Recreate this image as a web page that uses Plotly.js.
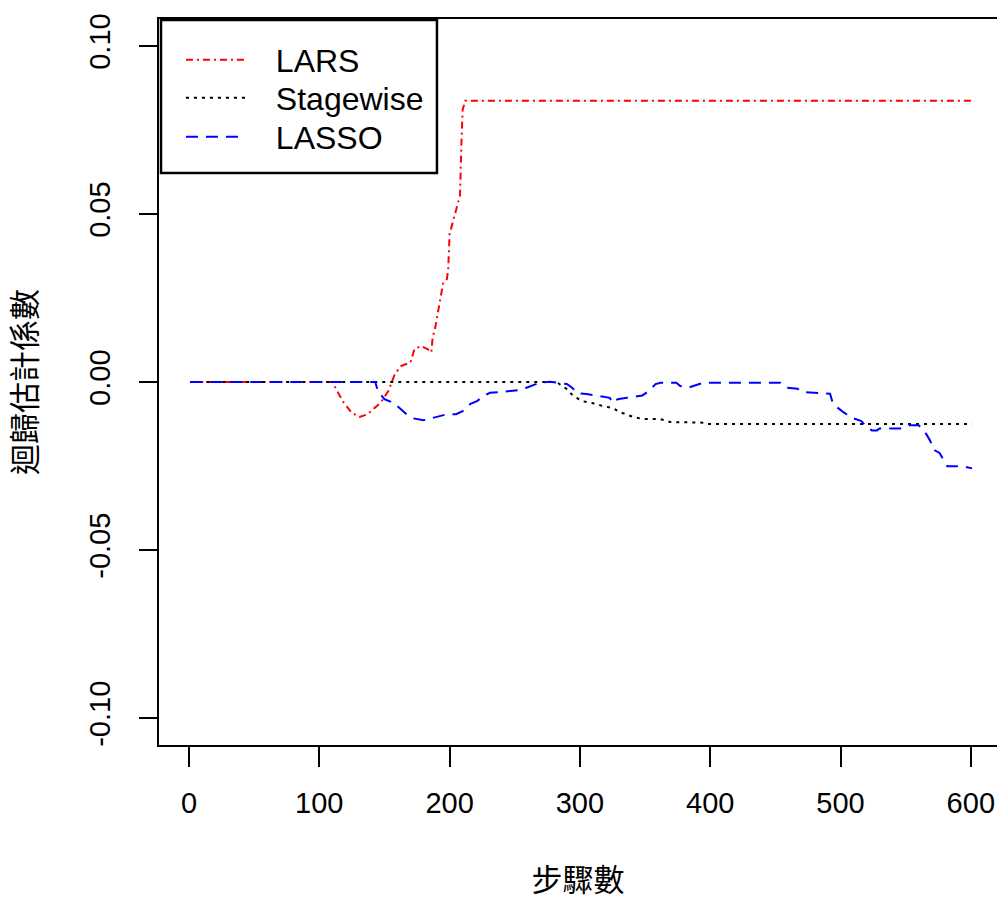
<!DOCTYPE html>
<html>
<head>
<meta charset="utf-8">
<script src="https://cdn.plot.ly/plotly-3.0.1.min.js"></script>
<style>html,body{margin:0;padding:0;background:#fff;}</style>
</head>
<body>
<div id="chart" style="width:997px;height:900px;"></div>
<script>
// LARS path
const larsSteps = [1,110,118,125,131,137,147,153,158,163,170,173,178,183,186,187,189,191,193,194,195,198,199,200,202,204,206,208,209,210,212,601];
const larsCoef  = [0,0,-0.0057,-0.0092,-0.0104,-0.0096,-0.0062,-0.0027,0.0024,0.0048,0.0058,0.0098,0.0107,0.0098,0.0088,0.0132,0.0162,0.0203,0.0242,0.0272,0.0293,0.0307,0.0341,0.0440,0.0471,0.0500,0.0531,0.0555,0.0700,0.0809,0.0837,0.0837];
// Stagewise path
const stageSteps = [1,282,290,295,302,310,318,325,331,341,348,361,367,369,395,397,601];
const stageCoef  = [0,0,-0.0021,-0.0042,-0.0057,-0.0063,-0.0072,-0.0077,-0.0090,-0.0104,-0.0110,-0.0110,-0.0116,-0.0119,-0.0121,-0.0125,-0.0125];
// LASSO path
const lassoSteps = [1,143,145,150,157,162,167,172,180,184,190,198,205,210,216,221,226,231,239,246,254,259,264,269,277,285,290,294,298,305,315,323,325,329,336,348,354,358,362,374,377,383,387,395,454,459,467,471,492,494,498,503,510,516,519,524,528,530,546,550,553,560,562,566,569,571,576,579,582,594,599,601];
const lassoCoef  = [0,0,-0.0027,-0.0051,-0.0062,-0.0080,-0.0096,-0.0108,-0.0114,-0.0110,-0.0104,-0.0096,-0.0096,-0.0087,-0.0065,-0.0057,-0.0042,-0.0032,-0.0030,-0.0027,-0.0024,-0.0017,-0.0009,-0.0002,0.0001,-0.0002,-0.0006,-0.0017,-0.0033,-0.0036,-0.0042,-0.0047,-0.0062,-0.0051,-0.0047,-0.0040,-0.0024,-0.0006,-0.0002,-0.0002,-0.0012,-0.0017,-0.0012,-0.0002,-0.0002,-0.0017,-0.0020,-0.0030,-0.0035,-0.0062,-0.0077,-0.0092,-0.0108,-0.0116,-0.0129,-0.0144,-0.0144,-0.0138,-0.0138,-0.0133,-0.0129,-0.0129,-0.0136,-0.0156,-0.0176,-0.0201,-0.0211,-0.0231,-0.0251,-0.0251,-0.0256,-0.0257];

const seriesNames = ['LARS','Stagewise','LASSO'];
const xTicks = [0,100,200,300,400,500,600];
const yTicks = [-0.10,-0.05,0.00,0.05,0.10];
const yTickText = ['-0.10','-0.05','0.00','0.05','0.10'];
const xTitle = '步驟數';
const yTitle = '迴歸估計係數';

const font = '"Liberation Sans", Arial, sans-serif';
const cjk = '"Noto Sans CJK TC", "Noto Sans CJK SC", sans-serif';
const gap = '\u2002\u00a0'; // spacing between legend sample and label

const traces = [
  {x: larsSteps, y: larsCoef, name: gap + seriesNames[0], type:'scatter', mode:'lines', legend:'legend',
   line:{color:'#ff0000', width:2, dash:'7px,4px,2px,4px'}},
  {x: stageSteps, y: stageCoef, name: gap + seriesNames[1], type:'scatter', mode:'lines', legend:'legend2',
   line:{color:'#000000', width:2, dash:'3px,5px'}},
  {x: lassoSteps, y: lassoCoef, name: gap + seriesNames[2], type:'scatter', mode:'lines', legend:'legend3',
   line:{color:'#0000ff', width:2, dash:'12px,8px'}}
];

function leg(yFrac){
  return {x:0.0262, y:yFrac, xanchor:'left', yanchor:'middle', bgcolor:'rgba(0,0,0,0)',
          borderwidth:0, font:{family:font, size:32, color:'#000'}, itemwidth:60};
}

const layout = {
  width: 997, height: 900,
  margin: {l:159, r:0, t:19, b:155, pad:0},
  paper_bgcolor:'#ffffff', plot_bgcolor:'#ffffff',
  font: {family: font, color:'#000000', size:29},
  showlegend: true,
  legend: leg(0.9435),
  legend2: leg(0.8912),
  legend3: leg(0.8375),
  shapes: [{type:'rect', xref:'paper', yref:'paper', x0:0.0024, x1:0.3317, y0:0.7879, y1:0.9986,
            line:{color:'#000', width:2.5}, fillcolor:'#ffffff', layer:'above'}],
  xaxis: {range:[-23.0, 620.1], tickmode:'array', tickvals:xTicks, ticktext:xTicks.map(String),
          showgrid:false, zeroline:false, showline:true, linecolor:'#000', linewidth:2, mirror:true,
          ticks:'outside', ticklen:20, tickwidth:2, tickcolor:'#000', ticklabelstandoff:11,
          tickfont:{family:font, size:29, color:'#000'},
          title:{text:xTitle, font:{family:cjk, size:31, color:'#000'}, standoff:64}},
  yaxis: {range:[-0.108, 0.108], tickmode:'array', tickvals:yTicks, ticktext:yTickText,
          showgrid:false, zeroline:false, showline:true, linecolor:'#000', linewidth:2, mirror:false,
          ticks:'outside', ticklen:18, tickwidth:2, tickcolor:'#000', tickangle:-90, ticklabelstandoff:17,
          tickfont:{family:font, size:29, color:'#000'},
          title:{text:yTitle, font:{family:cjk, size:31, color:'#000'}, standoff:45}}
};

Plotly.newPlot('chart', traces, layout, {displayModeBar:false, staticPlot:true});
</script>
</body>
</html>
